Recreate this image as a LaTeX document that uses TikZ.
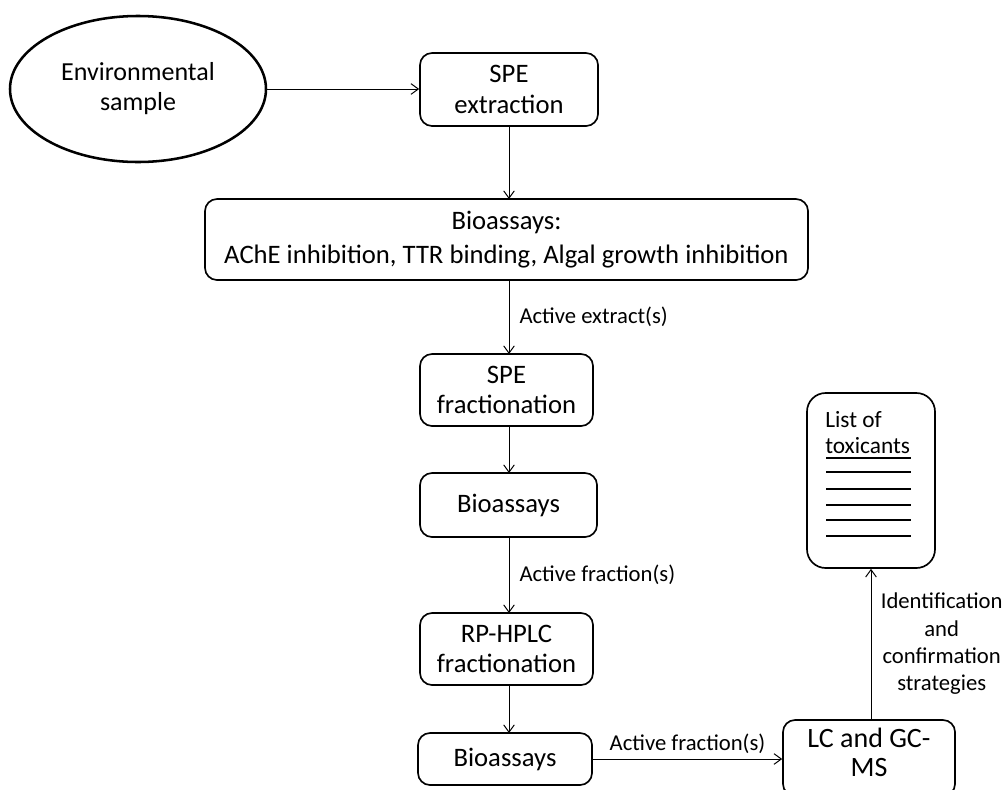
\documentclass[tikz,border=0pt]{standalone}
\usepackage{fontspec}
\setmainfont{Carlito}
\usetikzlibrary{shapes.geometric,arrows.meta}
\begin{document}
\begin{tikzpicture}[x=0.75pt,y=-0.75pt,
  box/.style={draw,line width=1.25pt,rounded corners=9pt,align=center,inner sep=0pt,
    font=\fontsize{20}{23}\selectfont},
  lbl/.style={font=\fontsize{17}{20.5}\selectfont,inner sep=0pt},
  arr/.style={draw,line width=0.75pt,-{Straight Barb[length=5.5pt,width=8pt,line width=0.75pt]}}]
\useasboundingbox (0,0) rectangle (1003,789);
\clip (0,0) rectangle (1003,789);
\node[ellipse,draw,line width=1.9pt,minimum width=256*0.75pt,minimum height=146*0.75pt,
  align=center,font=\fontsize{19.5}{22.5}\selectfont] (env) at (138,89) {Environmental\\sample};
\node[box,minimum width=178*0.75pt,minimum height=73*0.75pt] (spe1) at (509,89.5) {SPE\\extraction};
\node[box,minimum width=603*0.75pt,minimum height=81*0.75pt,font=\fontsize{20}{26}\selectfont] (bio1) at (506.5,239.5) {Bioassays:\\AChE inhibition, TTR binding, Algal growth inhibition};
\node[box,minimum width=173*0.75pt,minimum height=72*0.75pt] (spe2) at (506.5,390) {SPE\\fractionation};
\node[box,minimum width=177*0.75pt,minimum height=64*0.75pt] (bio2) at (508.5,505) {Bioassays};
\node[box,minimum width=173*0.75pt,minimum height=72*0.75pt] (rp) at (506.5,649) {RP-HPLC\\fractionation};
\node[box,minimum width=174*0.75pt,minimum height=52*0.75pt] (bio3) at (505,759) {Bioassays};
\node[box,minimum width=172*0.75pt,minimum height=76*0.75pt] (lc) at (869,758) {};
\node[inner sep=0pt,align=center,font=\fontsize{21}{22}\selectfont] (lctext) at (869,752.5) {LC and GC-\\MS};
\node[box,rounded corners=14pt,minimum width=128*0.75pt,minimum height=175*0.75pt] (list) at (871,480.5) {};
\node[anchor=west,inner sep=0pt,align=left,font=\fontsize{17.5}{19}\selectfont] (listtxt) at (825,432.5) {List of\\toxicants};
\foreach \yy in {458,472,489,505,520,536}
  \draw[line width=1.5pt] (826,\yy) -- (911,\yy);
% connectors
\draw[arr] (env.east) -- (spe1.west |- env.east);
\draw[arr] (509,126) -- (509,199);
\draw[arr] (509,280) -- node[lbl,anchor=west,xshift=7.5pt]{Active extract(s)} (509,354);
\draw[arr] (509,426) -- (509,473);
\draw[arr] (509,537) -- node[lbl,anchor=west,xshift=7.5pt]{Active fraction(s)} (509,613);
\draw[arr] (509,685) -- (509,733);
\draw[arr] (bio3.east) -- node[lbl,above,yshift=4pt]{Active fraction(s)} (lc.west |- bio3.east);
\draw[arr] (lc.north -| list.south) -- node[lbl,anchor=west,align=center,xshift=7pt]{Identification\\and\\confirmation\\strategies} (list.south);
\end{tikzpicture}
\end{document}
